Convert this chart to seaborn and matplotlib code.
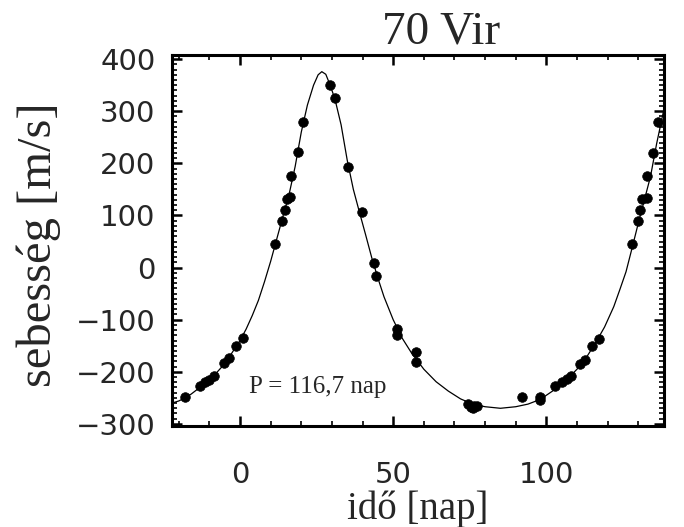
import matplotlib
matplotlib.use("Agg")
import matplotlib.pyplot as plt
from matplotlib.ticker import MultipleLocator
import seaborn as sns
import pandas as pd

# Fitted radial-velocity curve
curve_x = [-22.2, -20, -18, -16, -14, -12, -10, -8, -6, -4, -2, 0, 2, 4, 6, 8, 10, 12,
           14, 16, 18, 20, 22, 24, 25.5, 26.7, 28, 29.5, 31, 33, 35, 37, 39, 41, 43,
           45, 47, 50, 53, 56, 60, 64, 68, 72, 76, 80, 85, 90, 94, 98, 102, 106, 110,
           113, 116, 119, 122, 124, 126, 128, 130, 132, 134, 136, 138.6]
curve_y = [-260, -256, -250, -243, -234, -225, -216, -204, -191, -176, -158, -140, -118,
           -92, -63, -27, 12, 55, 98, 140, 194, 260, 312, 350, 370, 376, 371, 349, 323,
           274, 206, 150, 106, 63, 19, -20, -56, -100, -136, -164, -195, -219, -237,
           -252, -262, -267, -270, -267, -262, -253, -237, -219, -195, -173, -145,
           -114, -75, -42, -8, 38, 85, 130, 175, 238, 310]

obs_x = [-17.9, -13.2, -11.3, -10.2, -8.4, -5.1, -3.5, -1.2, 0.9,
         11.5, 13.7, 14.6, 15.5, 16.3, 16.6, 18.9, 20.5,
         29.4, 31.0,
         35.2, 39.8, 43.6, 44.4, 51.4, 51.4, 57.5, 57.5,
         74.5, 75.5, 76.5, 77.5, 76.0,
         92.1, 97.8, 97.8, 102.9, 105.1, 106.8, 108.1, 111.1, 112.7, 114.9, 117.1,
         128.0, 129.9, 130.5, 131.3, 132.7, 132.7, 134.9, 136.4]
obs_y = [-249, -227, -219, -216, -208, -184, -173, -151, -136,
         45, 89, 111, 131, 136, 176, 222, 280,
         351, 326,
         193, 106, 8, -17, -117, -130, -162, -181,
         -262, -268, -265, -266, -270,
         -248, -249, -254, -228, -219, -213, -208, -185, -177, -151, -137,
         45, 89, 111, 131, 134, 176, 220, 280]

title = "70 Vir"
xlabel = "idő [nap]"
ylabel = "sebesség [m/s]"
note = "P = 116,7 nap"

sns.set_style("ticks")
plt.rcParams["font.family"] = ["DejaVu Sans"]

fig = plt.figure(figsize=(6.84, 5.27), dpi=100)
ax = fig.add_axes([172 / 684, 1 - 426 / 527, (664 - 172) / 684, (426 - 55) / 527])

df_curve = pd.DataFrame({"x": curve_x, "y": curve_y})
df_obs = pd.DataFrame({"x": obs_x, "y": obs_y})

sns.lineplot(data=df_curve, x="x", y="y", ax=ax, color="black", linewidth=0.9,
             sort=False, estimator=None)
sns.scatterplot(data=df_obs, x="x", y="y", ax=ax, color="black", s=48,
                edgecolor="black", linewidth=0.5, zorder=3)

ax.set_xlim(-22.2, 138.4)
ax.set_ylim(-304, 408)

ax.xaxis.set_major_locator(MultipleLocator(50))
ax.xaxis.set_minor_locator(MultipleLocator(10))
ax.yaxis.set_major_locator(MultipleLocator(100))
ax.yaxis.set_minor_locator(MultipleLocator(10))

ax.tick_params(which="both", direction="in", top=True, right=True, color="black")
ax.tick_params(which="major", length=7, width=1.8)
ax.tick_params(which="minor", length=3.5, width=1.2)
ax.tick_params(axis="x", which="major", labelsize=21, pad=25)
ax.tick_params(axis="y", which="major", labelsize=21, pad=12)

for sp in ax.spines.values():
    sp.set_visible(True)
    sp.set_linewidth(2.2)
    sp.set_color("black")

serif = ["Liberation Serif", "DejaVu Serif"]
ax.set_xlabel(xlabel, fontsize=28, family=serif, labelpad=1)
ax.set_ylabel(ylabel, fontsize=35, family=serif)
ax.yaxis.set_label_coords(-0.225, 0.49)
ax.text(0.547, 1.03, title, transform=ax.transAxes, ha="center", va="baseline",
        fontsize=34, family=serif)
ax.text(3.0, -240, note, ha="left", va="baseline", fontsize=18, family=serif)

fig.savefig("out.png", dpi=100, facecolor="white")
